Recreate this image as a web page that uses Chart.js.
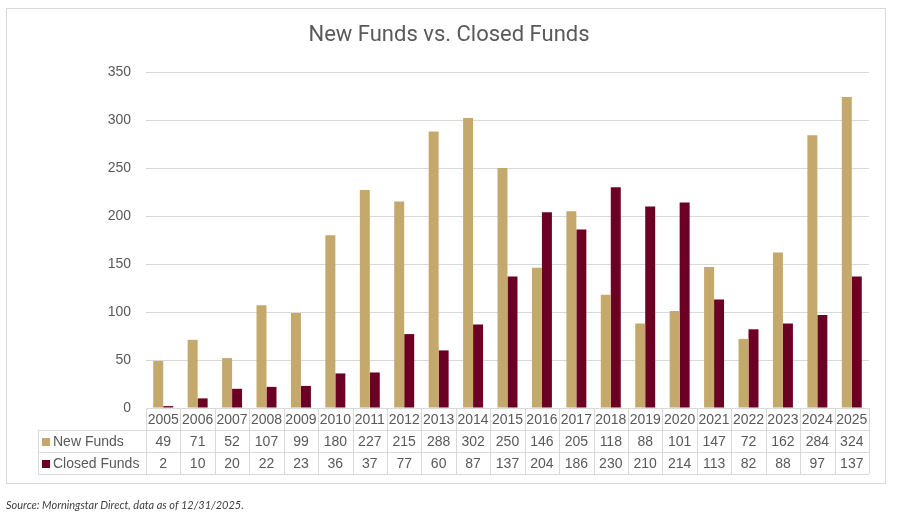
<!DOCTYPE html>
<html>
<head>
<meta charset="utf-8">
<script src="https://cdn.jsdelivr.net/npm/chart.js@4"></script>
<style>
  html, body { margin: 0; padding: 0; background: #fff; }
  #wrap { position: relative; width: 904px; height: 519px; overflow: hidden; }
  #frame { position: absolute; left: 6px; top: 8px; width: 880px; height: 476px; border: 1px solid #d9d9d9; box-sizing: border-box; }
  canvas { position: absolute; left: 0; top: 0; }
  .leg { position: absolute; font: 14px "Liberation Sans", Arial, sans-serif; color: #595959; white-space: nowrap; line-height: 22px; }
  .leg i { display: inline-block; width: 8px; height: 8px; margin-right: 3px; vertical-align: 0px; }
  #src { position: absolute; left: 6px; top: 498px; font: italic 11px Lato, "Open Sans", sans-serif; color: #404040; white-space: nowrap; }
</style>
</head>
<body>
<div id="wrap">
  <div id="frame"></div>
  <canvas id="c" width="904" height="519"></canvas>
  <div class="leg" id="leg1"></div>
  <div class="leg" id="leg2"></div>
  <div id="src">Source: Morningstar Direct, data as of 12/31/2025.</div>
</div>
<script>
const years = ["2005","2006","2007","2008","2009","2010","2011","2012","2013","2014","2015","2016","2017","2018","2019","2020","2021","2022","2023","2024","2025"];
const newFunds = [49,71,52,107,99,180,227,215,288,302,250,146,205,118,88,101,147,72,162,284,324];
const closedFunds = [2,10,20,22,23,36,37,77,60,87,137,204,186,230,210,214,113,82,88,97,137];
const seriesNames = ["New Funds", "Closed Funds"];
const seriesColors = ["#C5A86B", "#6B0024"];
const titleText = "New Funds vs. Closed Funds";

const tableLabels = years.map((y, i) => [y, String(newFunds[i]), String(closedFunds[i])]);
const ROW_H = 22;

const tablePlugin = {
  id: 'dataTable',
  afterDraw(chart) {
    const ctx = chart.ctx;
    const x = chart.scales.x;
    const top = x.top;
    const left = x.left, right = x.right;
    const n = years.length;
    const step = (right - left) / n;
    const legLeft = left - 108;
    ctx.save();
    ctx.strokeStyle = '#d9d9d9';
    ctx.lineWidth = 1;
    ctx.beginPath();
    ctx.moveTo(left, top + 0.5); ctx.lineTo(right, top + 0.5);
    for (let r = 1; r <= 3; r++) {
      const yy = Math.round(top + r * ROW_H) + 0.5;
      ctx.moveTo(legLeft, yy); ctx.lineTo(right, yy);
    }
    for (let i = 0; i <= n; i++) {
      const xx = Math.round(left + i * step) + 0.5;
      ctx.moveTo(xx, top); ctx.lineTo(xx, top + 3 * ROW_H);
    }
    ctx.moveTo(legLeft + 0.5, top + ROW_H); ctx.lineTo(legLeft + 0.5, top + 3 * ROW_H);
    ctx.stroke();
    ctx.restore();

    const l1 = document.getElementById('leg1');
    const l2 = document.getElementById('leg2');
    [l1, l2].forEach((el, k) => {
      el.innerHTML = '<i style="background:' + seriesColors[k] + '"></i>' + seriesNames[k];
      el.style.left = (legLeft + 4) + 'px';
      el.style.top = (top + (k + 1) * ROW_H) + 'px';
    });
  }
};

new Chart(document.getElementById('c'), {
  type: 'bar',
  data: {
    labels: tableLabels,
    datasets: [
      { label: seriesNames[0], data: newFunds, backgroundColor: seriesColors[0], categoryPercentage: 0.58, barPercentage: 1.0 },
      { label: seriesNames[1], data: closedFunds, backgroundColor: seriesColors[1], categoryPercentage: 0.58, barPercentage: 1.0 }
    ]
  },
  options: {
    responsive: false,
    animation: false,
    devicePixelRatio: 1,
    layout: { padding: { left: 29, right: 35, top: 22, bottom: 45 } },
    plugins: {
      legend: { display: false },
      tooltip: { enabled: false },
      title: {
        display: true, text: titleText, color: '#595959',
        font: { family: 'Roboto', size: 22, weight: 'normal', lineHeight: 1.2 },
        padding: { top: 0, bottom: 23.6 }
      }
    },
    scales: {
      x: {
        grid: { display: false, drawTicks: false },
        border: { display: false },
        ticks: {
          autoSkip: false, maxRotation: 0, minRotation: 0, padding: 1,
          color: '#595959',
          font: { family: 'Liberation Sans', size: 14, lineHeight: ROW_H / 14 }
        },
        afterFit(s) { s.height = 3 * ROW_H; }
      },
      y: {
        min: 0, max: 350,
        grid: { color: '#d9d9d9', drawTicks: false, lineWidth: 1 },
        border: { display: false },
        ticks: {
          stepSize: 50, padding: 15, color: '#595959',
          font: { family: 'Liberation Sans', size: 14 }
        },
        afterFit(s) { s.width = 117; }
      }
    }
  },
  plugins: [tablePlugin]
});
</script>
</body>
</html>
